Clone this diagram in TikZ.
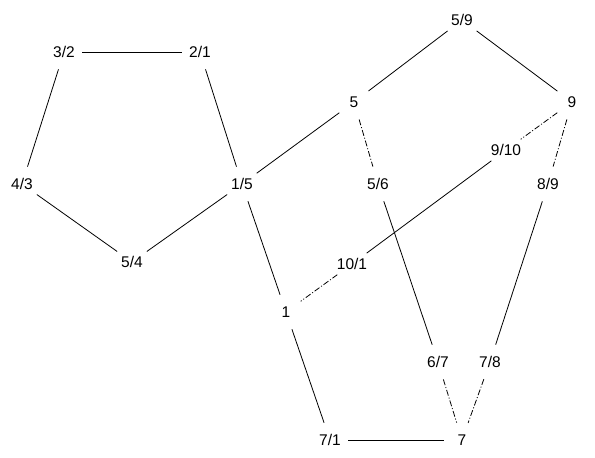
\documentclass[tikz,border=0pt]{standalone}
\usepackage{fontspec}
\setmainfont{Liberation Sans}
\begin{document}
\begin{tikzpicture}[x=1pt,y=-1pt,
  vtx/.style={circle,minimum size=36pt,inner sep=0pt,font=\fontsize{15.5}{17}\selectfont},
  edge/.style={black,line width=0.8pt},
  dd/.style={black,line width=0.8pt,dash pattern=on 6pt off 2pt on 1pt off 2pt}]
\useasboundingbox (0,0) rectangle (595,458);
\node[vtx] (n32) at (64,52) {3/2};
\node[vtx] (n21) at (200,52) {2/1};
\node[vtx] (n43) at (22,184) {4/3};
\node[vtx] (n15) at (242,184) {1/5};
\node[vtx] (n54) at (132,262) {5/4};
\node[vtx] (n59) at (462,20) {5/9};
\node[vtx] (n5) at (354,102) {5};
\node[vtx] (n9) at (572,102) {9};
\node[vtx] (n910) at (506,150) {9/10};
\node[vtx] (n56) at (378,184) {5/6};
\node[vtx] (n89) at (548,184) {8/9};
\node[vtx] (n101) at (352,264) {10/1};
\node[vtx] (n1) at (286,312) {1};
\node[vtx] (n67) at (438,362) {6/7};
\node[vtx] (n78) at (490,362) {7/8};
\node[vtx] (n71) at (330,440) {7/1};
\node[vtx] (n7) at (462,440) {7};
\draw[edge] (n32) -- (n21);
\draw[edge] (n32) -- (n43);
\draw[edge] (n21) -- (n15);
\draw[edge] (n43) -- (n54);
\draw[edge] (n54) -- (n15);
\draw[edge] (n15) -- (n5);
\draw[edge] (n15) -- (n1);
\draw[edge] (n5) -- (n59);
\draw[edge] (n59) -- (n9);
\draw[dd] (n5) -- (n56);
\draw[edge] (n56) -- (n67);
\draw[dd] (n9) -- (n910);
\draw[edge] (n910) -- (n101);
\draw[dd] (n101) -- (n1);
\draw[dd] (n9) -- (n89);
\draw[edge] (n89) -- (n78);
\draw[edge] (n1) -- (n71);
\draw[edge] (n71) -- (n7);
\draw[dd] (n67) -- (n7);
\draw[dd] (n78) -- (n7);
\end{tikzpicture}
\end{document}
